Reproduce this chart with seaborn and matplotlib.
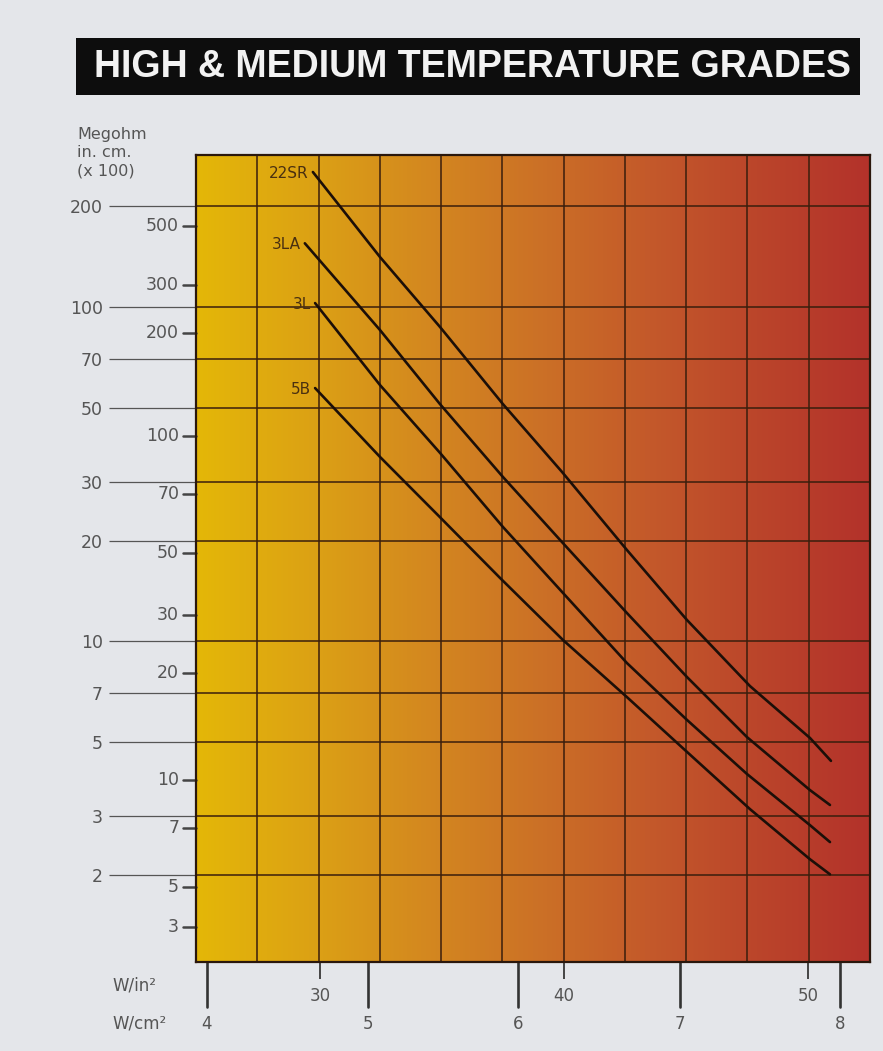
import numpy as np
import pandas as pd
import matplotlib
matplotlib.use("Agg")
import matplotlib.pyplot as plt
import matplotlib.transforms as mtransforms
from matplotlib.colors import LinearSegmentedColormap
from matplotlib.patches import Rectangle
import seaborn as sns

# Surface load in W/in^2 and insulation resistance (Megohm in. cm. x 100, outer scale)
w_22sr = [29.71, 32.46, 34.92, 37.50, 39.92, 42.58, 45.04, 47.62, 50.08, 50.94]
r_22sr = [253.2, 141.0, 87.1, 51.2, 32.1, 18.75, 11.58, 7.35, 5.14, 4.39]
w_3la = [29.38, 32.46, 34.92, 37.50, 39.92, 42.58, 45.04, 47.50, 50.08, 50.90]
r_3la = [155.0, 85.3, 51.2, 31.0, 19.8, 12.15, 7.82, 5.17, 3.59, 3.24]
w_3l = [29.80, 32.46, 34.92, 37.50, 39.96, 42.58, 45.04, 47.50, 50.08, 50.90]
r_3l = [102.7, 58.4, 36.6, 21.97, 13.95, 8.61, 5.82, 4.01, 2.82, 2.51]
w_5b = [29.80, 32.46, 34.92, 37.38, 39.96, 42.58, 45.04, 47.62, 50.08, 50.90]
r_5b = [57.2, 35.6, 23.5, 15.47, 10.09, 6.81, 4.67, 3.15, 2.23, 2.01]

grades = ["22SR", "3LA", "3L", "5B"]

# outer (Megohm in. cm. x100) scale
outer_ticks = [200, 100, 70, 50, 30, 20, 10, 7, 5, 3, 2]
# inner scale labels and where they sit on the outer scale
inner_labels = ["500", "300", "200", "100", "70", "50", "30", "20", "10", "7", "5", "3"]
inner_pos = [174.6, 116.3, 83.5, 41.1, 27.6, 18.4, 12.0, 8.04, 3.85, 2.77, 1.84, 1.40]

win_ticks = [30, 40, 50]
wcm_labels = ["4", "5", "6", "7", "8"]
wcm_pos = [25.37, 31.97, 38.11, 44.75, 51.31]

df = pd.concat([
    pd.DataFrame({"w": w, "r": r, "grade": g})
    for g, w, r in zip(grades, [w_22sr, w_3la, w_3l, w_5b], [r_22sr, r_3la, r_3l, r_5b])
])

sns.set_style("white")
plt.rcParams['font.family'] = ['DejaVu Sans']

bg = "#e4e6ea"
fig = plt.figure(figsize=(8.83, 10.51), dpi=100, facecolor=bg)
ax = fig.add_axes([196 / 883, 1 - 962 / 1051, 674 / 883, 807 / 1051])

xlim = (24.92, 52.54)
ylim = (1.099, 284.7)

# colour wash behind the grid
cmap = LinearSegmentedColormap.from_list(
    "heat", ["#e4b708", "#dca214", "#d4891f", "#cc7226", "#c45a2a", "#bb452b", "#b3322a"])
ax.imshow(np.linspace(0, 1, 256)[None, :], cmap=cmap, aspect="auto",
          extent=[0, 1, 0, 1], transform=ax.transAxes, zorder=0)

sns.lineplot(data=df, x="w", y="r", hue="grade", palette=["#1c0f08"] * 4,
             estimator=None, sort=False, legend=False, lw=1.9, ax=ax, zorder=3)

ax.set_yscale("log")
ax.set_xlim(*xlim)
ax.set_ylim(*ylim)

gridc = "#3a1e0c"
for xv in np.linspace(xlim[0], xlim[1], 12)[1:-1]:
    ax.axvline(xv, color=gridc, lw=1.1, zorder=1)
for v in outer_ticks:
    ax.axhline(v, color=gridc, lw=1.1, zorder=1)

for s in ax.spines.values():
    s.set_color("#2a170c")
    s.set_linewidth(1.6)
    s.set_visible(True)

# outer y scale
ax.set_yticks(outer_ticks)
ax.set_yticklabels([str(v) for v in outer_ticks])
ax.yaxis.set_minor_locator(matplotlib.ticker.NullLocator())
ax.tick_params(axis="y", left=True, length=63, width=0.9, color="#555555",
               pad=4, labelsize=12.5, labelcolor="#555555")
ax.set_ylabel("")
ax.set_xlabel("")

# inner y scale
ty = mtransforms.blended_transform_factory(ax.transAxes, ax.transData)
for lab, p in zip(inner_labels, inner_pos):
    ax.plot([-0.019, 0], [p, p], transform=ty, clip_on=False, color="#444444", lw=1.8)
    ax.text(-0.025, p, lab, transform=ty, ha="right", va="center",
            fontsize=12.5, color="#555555")

# bottom scales
ax.set_xticks(win_ticks)
ax.set_xticklabels([str(v) for v in win_ticks])
ax.tick_params(axis="x", bottom=True, length=12, width=1.4, color="#444444",
               pad=6, labelsize=12, labelcolor="#555555")
tx = mtransforms.blended_transform_factory(ax.transData, ax.transAxes)
for lab, p in zip(wcm_labels, wcm_pos):
    ax.plot([p, p], [0, -0.056], transform=tx, clip_on=False, color="#333333", lw=1.9)
    ax.text(p, -0.077, lab, transform=tx, ha="center", va="center",
            fontsize=12, color="#555555")

fig.text(112 / 883, 1 - 985 / 1051, "W/in²", fontsize=12, color="#555555", va="center")
fig.text(112 / 883, 1 - 1023 / 1051, "W/cm²", fontsize=12, color="#555555", va="center")

fig.text(77 / 883, 1 - 127 / 1051, "Megohm\nin. cm.\n(x 100)", fontsize=11.5,
         color="#555555", va="top", ha="left", linespacing=1.25)

# grade labels at the start of each line
for g, w, r in zip(grades, [w_22sr, w_3la, w_3l, w_5b], [r_22sr, r_3la, r_3l, r_5b]):
    ax.annotate(g, xy=(w[0], r[0]), xytext=(-3, -1), textcoords="offset points",
                ha="right", va="center", fontsize=11, color="#4a3010", zorder=4)

# title banner
fig.patches.append(Rectangle((76 / 883, 1 - 95 / 1051), 784 / 883, 57 / 1051,
                             transform=fig.transFigure, facecolor="#0d0d0d",
                             edgecolor="none", zorder=0))
fig.text(472 / 883, 1 - 67 / 1051, "HIGH & MEDIUM TEMPERATURE GRADES",
         family=["Liberation Sans", "DejaVu Sans"], fontweight="bold",
         fontsize=27, color="#f2f2f2", ha="center", va="center")

fig.savefig("out.png", dpi=100, facecolor=bg)
